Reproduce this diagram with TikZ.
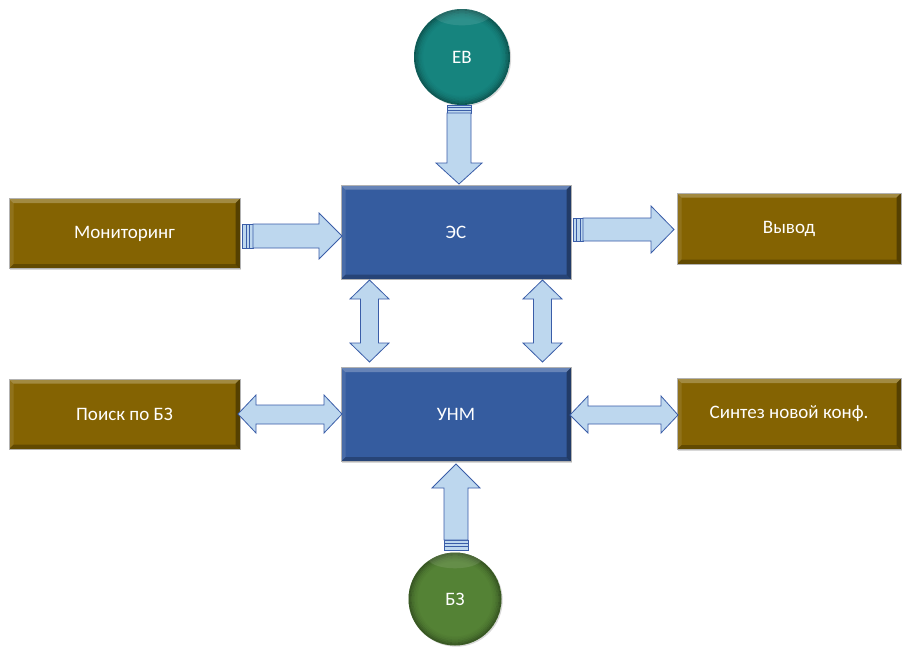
\documentclass[tikz,border=0pt]{standalone}
\usepackage{fontspec}
\setmainfont{Carlito}
\usetikzlibrary{calc,shadows}
\definecolor{boxolive}{HTML}{846302}
\definecolor{boxblue}{HTML}{355C9F}
\definecolor{circteal}{HTML}{16847E}
\definecolor{circgreen}{HTML}{548235}
\definecolor{arrfill}{HTML}{BDD7EE}
\definecolor{arrline}{HTML}{3A5DA8}
\tikzset{
  bevel/.style={path picture={
    \coordinate (pnw) at (path picture bounding box.north west);
    \coordinate (pne) at (path picture bounding box.north east);
    \coordinate (psw) at (path picture bounding box.south west);
    \coordinate (pse) at (path picture bounding box.south east);
    \fill[white,opacity=.25] (pnw) -- (pne) -- ([xshift=-4.5pt,yshift=-4.5pt]pne) -- ([xshift=4.5pt,yshift=-4.5pt]pnw) -- cycle;
    \fill[white,opacity=.10] (pnw) -- ([xshift=4.5pt,yshift=-4.5pt]pnw) -- ([xshift=4.5pt,yshift=4.5pt]psw) -- (psw) -- cycle;
    \fill[black,opacity=.25] (psw) -- (pse) -- ([xshift=-4.5pt,yshift=4.5pt]pse) -- ([xshift=4.5pt,yshift=4.5pt]psw) -- cycle;
    \fill[black,opacity=.35] (pne) -- (pse) -- ([xshift=-4.5pt,yshift=4.5pt]pse) -- ([xshift=-4.5pt,yshift=-4.5pt]pne) -- cycle;
  }},
  basebox/.style={rectangle, draw=black!30, line width=0.8pt, text=white, bevel,
    drop shadow={shadow xshift=1.2pt, shadow yshift=-1.2pt, opacity=.3}},
  obox/.style={basebox, fill=boxolive, minimum width=231pt, minimum height=70pt},
  rbox/.style={basebox, fill=boxolive, minimum width=224pt, minimum height=71pt},
  bbox/.style={basebox, fill=boxblue, minimum width=230pt, minimum height=94pt},
  ballshade/.style={path picture={
    \foreach \r/\o in {0/.30,1.5/.22,3/.15,4.5/.09,6/.05,7.5/.025}{
      \draw[black,opacity=\o,line width=1.6pt]
        (path picture bounding box.center) circle[radius=#1/2-\r*1pt-0.8pt];
    }
    \fill[white,opacity=.10] ([yshift=-#1*0.05]path picture bounding box.north) ellipse[x radius=#1*0.3, y radius=#1*0.12];
  }},
  ball/.style={circle, minimum size=#1, text=white, ballshade=#1,
    drop shadow={shadow xshift=1.2pt, shadow yshift=-1.2pt, opacity=.3}},
  tealball/.style={ball=96pt, fill=circteal},
  greenball/.style={ball=93pt, fill=circgreen},
  blockarrow/.style={fill=arrfill, draw=arrline, line width=0.8pt, line join=miter},
  stripe/.style={draw=arrline, line width=0.7pt, fill=arrfill}
}
\begin{document}
\begin{tikzpicture}[x=1pt,y=-1pt,font=\fontsize{19}{22}\selectfont]
\useasboundingbox[fill=white] (0,0) rectangle (902,646);

% nodes
\node[obox] (mon) at (124.5,233.5) {Мониторинг};
\node[obox] (poisk) at (124.5,414) {Поиск по БЗ};
\node[rbox] (vyvod) at (789,228.5) {Вывод};
\node[rbox] (sintez) at (789,414) {Синтез новой конф.};
\node[bbox] (es) at (456,232) {ЭС};
\node[bbox] (unm) at (456,414.5) {УНМ};
\node[tealball] (ev) at (462,57) {ЕВ};
\node[greenball] (bz) at (455,599) {БЗ};

% EV -> ES (down)
\path[stripe] (447,105) rectangle (471,113);
\draw[arrline,line width=0.6pt] (447,107.5) -- (471,107.5) (447,110) -- (471,110);
\path[blockarrow] (447,113) -- (471,113) -- (471,163) -- (482,163) -- (459,184)
  -- (436,163) -- (447,163) -- cycle;

% BZ -> UNM (up)
\path[stripe] (444,540) rectangle (468,550);
\draw[arrline,line width=0.6pt] (444,543) -- (468,543) (444,546.5) -- (468,546.5);
\path[blockarrow] (444,540) -- (468,540) -- (468,488) -- (480,488) -- (456,464)
  -- (432,488) -- (444,488) -- cycle;

% Monitoring -> ES
\path[stripe] (242,224) rectangle (253,248);
\draw[arrline,line width=0.6pt] (246,224) -- (246,248) (249.5,224) -- (249.5,248);
\path[blockarrow] (253,224) -- (319,224) -- (319,213) -- (342,236) -- (319,259)
  -- (319,248) -- (253,248) -- cycle;

% ES -> Vyvod
\path[stripe] (573,218) rectangle (583,241);
\draw[arrline,line width=0.6pt] (576.5,218) -- (576.5,241) (580,218) -- (580,241);
\path[blockarrow] (583,218) -- (651,218) -- (651,206) -- (674,229.5) -- (651,253)
  -- (651,241) -- (583,241) -- cycle;

% ES <-> UNM (left)
\path[blockarrow] (369.5,280) -- (389,299) -- (378.5,299) -- (378.5,343) -- (389,343)
  -- (369.5,362) -- (350,343) -- (360.5,343) -- (360.5,299) -- (350,299) -- cycle;
% ES <-> UNM (right)
\path[blockarrow] (542.5,280) -- (562,299) -- (551.5,299) -- (551.5,343) -- (562,343)
  -- (542.5,362) -- (523,343) -- (533.5,343) -- (533.5,299) -- (523,299) -- cycle;

% Poisk <-> UNM
\path[blockarrow] (238,414) -- (256,395) -- (256,405) -- (324,405) -- (324,395)
  -- (342,414) -- (324,433) -- (324,424) -- (256,424) -- (256,433) -- cycle;

% UNM <-> Sintez
\path[blockarrow] (570,415) -- (588,396) -- (588,406) -- (661,406) -- (661,396)
  -- (678,415) -- (661,433) -- (661,424) -- (588,424) -- (588,433) -- cycle;
\end{tikzpicture}
\end{document}
